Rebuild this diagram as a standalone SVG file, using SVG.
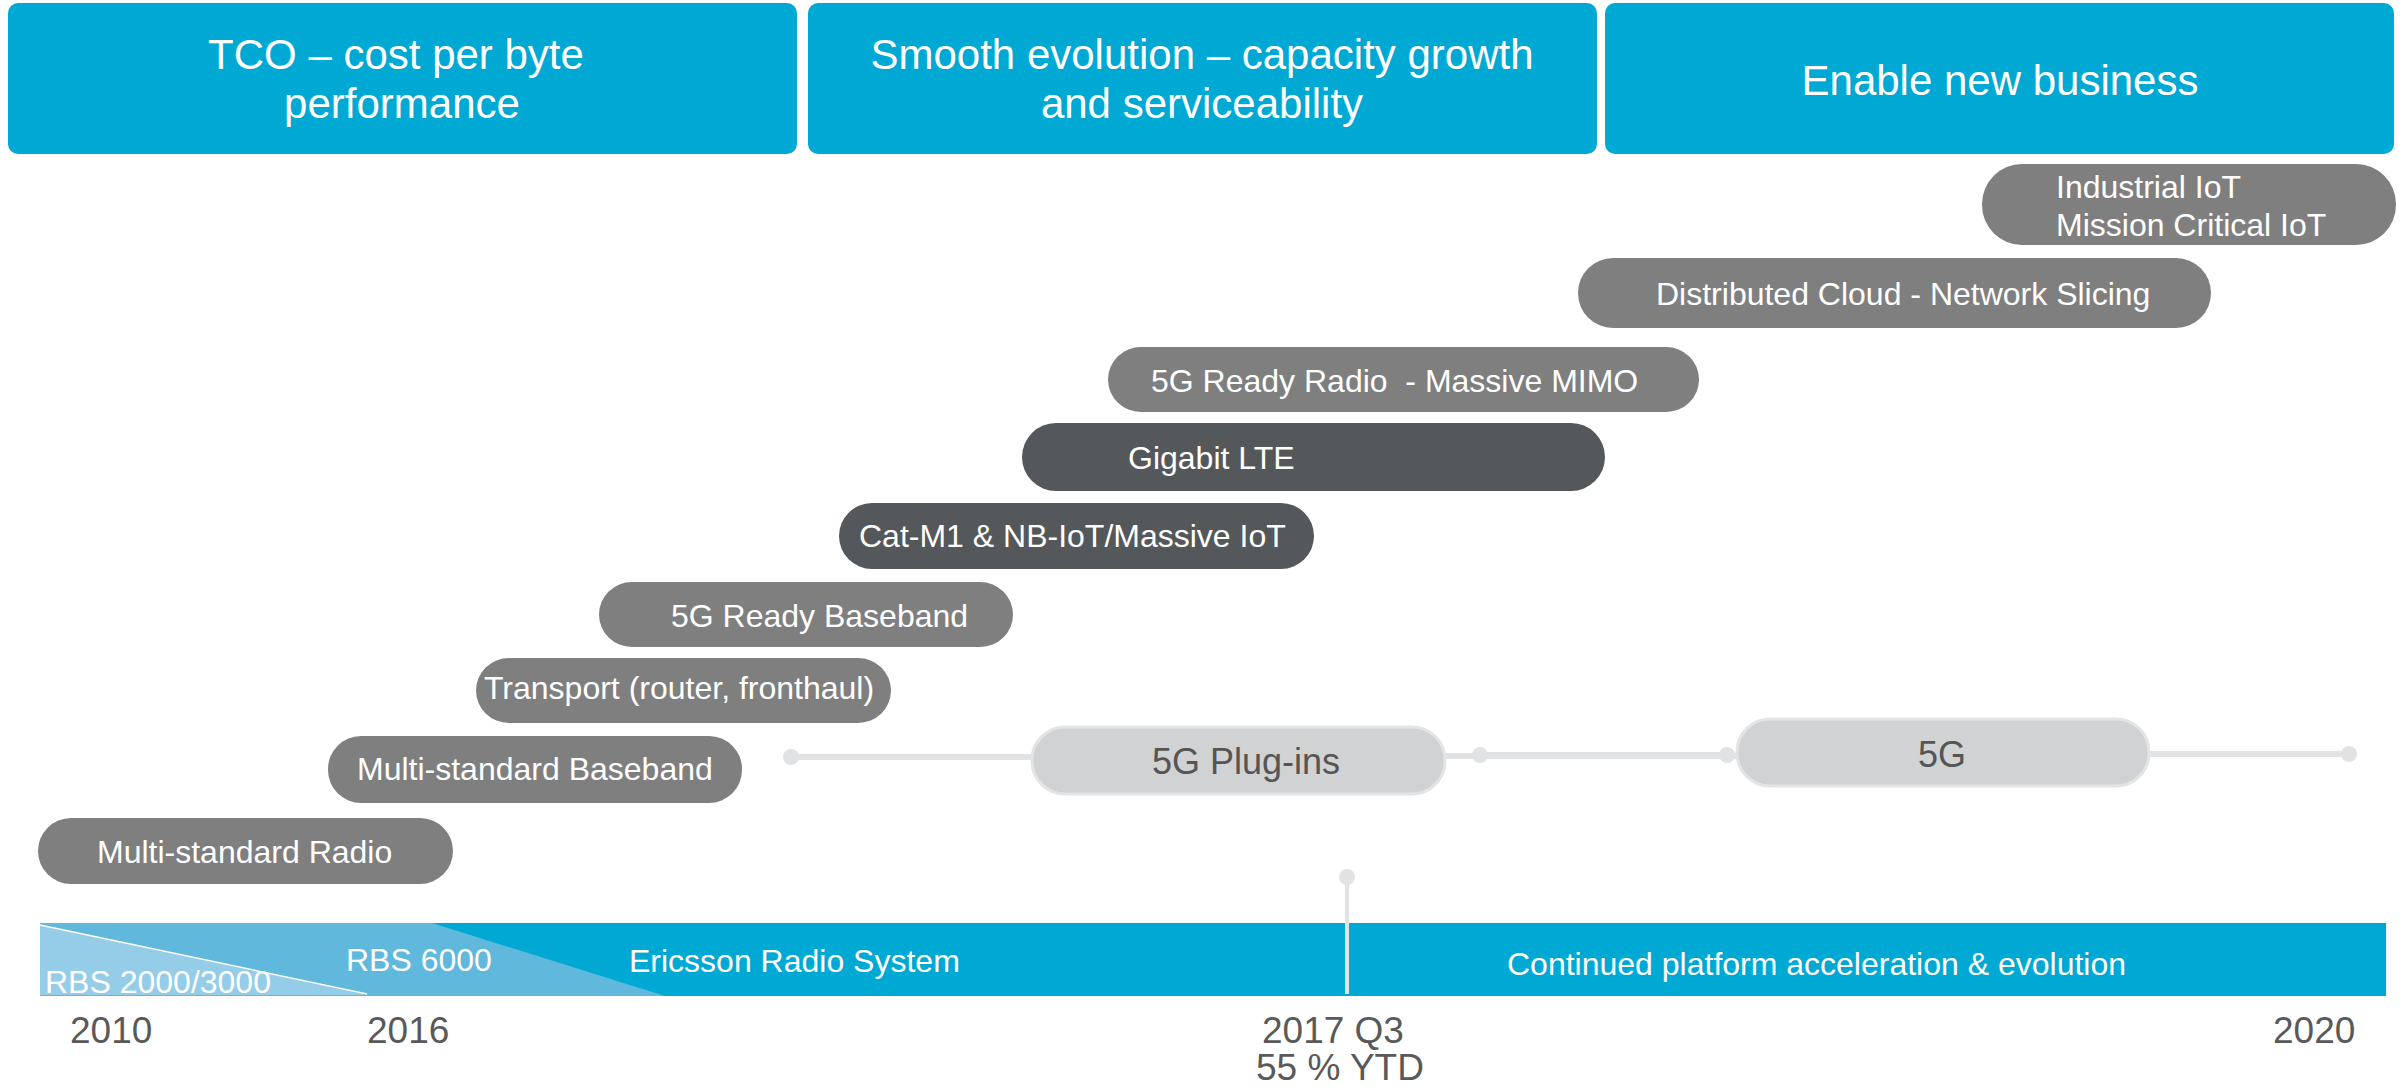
<svg xmlns="http://www.w3.org/2000/svg" width="2402" height="1087" viewBox="0 0 2402 1087">
  <style>
    text { font-family: "Liberation Sans", Arial, Helvetica, sans-serif; }
    .hdr { fill: #00A9D4; }
    .hdr-t { fill: #FFFFFF; font-size: 42px; text-anchor: middle; }
    .pill { fill: #7F7F7F; }
    .pill-dark { fill: #54585A; }
    .pill-light { fill: #D0D2D3; stroke: #E3E4E5; stroke-width: 3; }
    .pill-t { fill: #FFFFFF; font-size: 32px; white-space: pre; }
    .light-t { fill: #555555; font-size: 36px; text-anchor: middle; }
    .track { stroke: #E1E2E3; stroke-width: 6; fill: none; }
    .dot { fill: #E1E2E3; }
    .band-t { fill: #FFFFFF; font-size: 32px; }
    .year { fill: #595959; font-size: 37px; }
  </style>

  <!-- Column headers -->
  <g id="header-tco">
    <rect class="hdr" x="8" y="3" width="789" height="151" rx="10"/>
    <text class="hdr-t" x="396" y="69">TCO – cost per byte</text>
    <text class="hdr-t" x="402" y="118">performance</text>
  </g>
  <g id="header-evolution">
    <rect class="hdr" x="808" y="3" width="789" height="151" rx="10"/>
    <text class="hdr-t" x="1202" y="69">Smooth evolution – capacity growth</text>
    <text class="hdr-t" x="1202" y="118">and serviceability</text>
  </g>
  <g id="header-business">
    <rect class="hdr" x="1605" y="3" width="789" height="151" rx="10"/>
    <text class="hdr-t" x="2000" y="95">Enable new business</text>
  </g>

  <!-- Timeline connectors -->
  <g id="connectors">
    <line class="track" x1="791" y1="757" x2="1032" y2="757"/>
    <circle class="dot" cx="791" cy="757" r="8"/>
    <line class="track" x1="1444" y1="756" x2="1738" y2="756"/>
    <line class="track" x1="1480" y1="755" x2="1727" y2="755" stroke-width="8"/>
    <circle class="dot" cx="1480" cy="755" r="8"/>
    <circle class="dot" cx="1727" cy="755" r="8"/>
    <line class="track" x1="2148" y1="754" x2="2349" y2="754"/>
    <circle class="dot" cx="2349" cy="754" r="8"/>
  </g>

  <!-- Feature pills -->
  <g id="node-industrial-iot">
    <rect class="pill" x="1982" y="164" width="414" height="81" rx="40"/>
    <text class="pill-t" x="2056" y="198" font-size="31">Industrial IoT</text>
    <text class="pill-t" x="2056" y="236" font-size="31">Mission Critical IoT</text>
  </g>
  <g id="node-distributed-cloud">
    <rect class="pill" x="1578" y="258" width="633" height="70" rx="35"/>
    <text class="pill-t" x="1656" y="305">Distributed Cloud - Network Slicing</text>
  </g>
  <g id="node-5g-ready-radio">
    <rect class="pill" x="1108" y="347" width="591" height="65" rx="33"/>
    <text class="pill-t" x="1151" y="392">5G Ready Radio  - Massive MIMO</text>
  </g>
  <g id="node-gigabit-lte">
    <rect class="pill-dark" x="1022" y="423" width="583" height="68" rx="34"/>
    <text class="pill-t" x="1128" y="469">Gigabit LTE</text>
  </g>
  <g id="node-cat-m1">
    <rect class="pill-dark" x="839" y="503" width="475" height="66" rx="33"/>
    <text class="pill-t" x="859" y="547">Cat-M1 &amp; NB-IoT/Massive IoT</text>
  </g>
  <g id="node-5g-ready-baseband">
    <rect class="pill" x="599" y="582" width="414" height="65" rx="33"/>
    <text class="pill-t" x="671" y="627">5G Ready Baseband</text>
  </g>
  <g id="node-transport">
    <rect class="pill" x="476" y="658" width="415" height="65" rx="33"/>
    <text class="pill-t" x="484" y="699">Transport (router, fronthaul)</text>
  </g>
  <g id="node-ms-baseband">
    <rect class="pill" x="328" y="736" width="414" height="67" rx="33"/>
    <text class="pill-t" x="357" y="780">Multi-standard Baseband</text>
  </g>
  <g id="node-ms-radio">
    <rect class="pill" x="38" y="818" width="415" height="66" rx="33"/>
    <text class="pill-t" x="97" y="863">Multi-standard Radio</text>
  </g>
  <g id="node-5g-plugins">
    <rect class="pill-light" x="1032" y="727" width="413" height="67" rx="33"/>
    <text class="light-t" x="1246" y="774">5G Plug-ins</text>
  </g>
  <g id="node-5g">
    <rect class="pill-light" x="1737" y="719" width="412" height="67" rx="33"/>
    <text class="light-t" x="1942" y="767">5G</text>
  </g>

  <!-- Platform band -->
  <g id="platform-band">
    <rect x="40" y="923" width="2346" height="73" fill="#00A9D4"/>
    <polygon points="40,923 432,923 665,996 40,996" fill="#60B8DD"/>
    <polygon points="40,925 367,995 40,995" fill="#95CDE8"/>
    <line x1="40" y1="925" x2="367" y2="994" stroke="#FFFFFF" stroke-width="1.5"/>
    <text class="band-t" x="45" y="993">RBS 2000/3000</text>
    <text class="band-t" x="346" y="971">RBS 6000</text>
    <text class="band-t" x="629" y="972">Ericsson Radio System</text>
    <text class="band-t" x="1507" y="975">Continued platform acceleration &amp; evolution</text>
  </g>

  <!-- 2017 Q3 marker -->
  <g id="marker-2017q3">
    <line x1="1347" y1="877" x2="1347" y2="994" stroke="#E1E2E3" stroke-width="4"/>
    <circle class="dot" cx="1347" cy="877" r="8"/>
  </g>

  <!-- Year axis -->
  <g id="years">
    <text class="year" x="70" y="1043">2010</text>
    <text class="year" x="367" y="1043">2016</text>
    <text class="year" x="1262" y="1043">2017 Q3</text>
    <text class="year" x="1256" y="1080">55 % YTD</text>
    <text class="year" x="2273" y="1043">2020</text>
  </g>
</svg>
